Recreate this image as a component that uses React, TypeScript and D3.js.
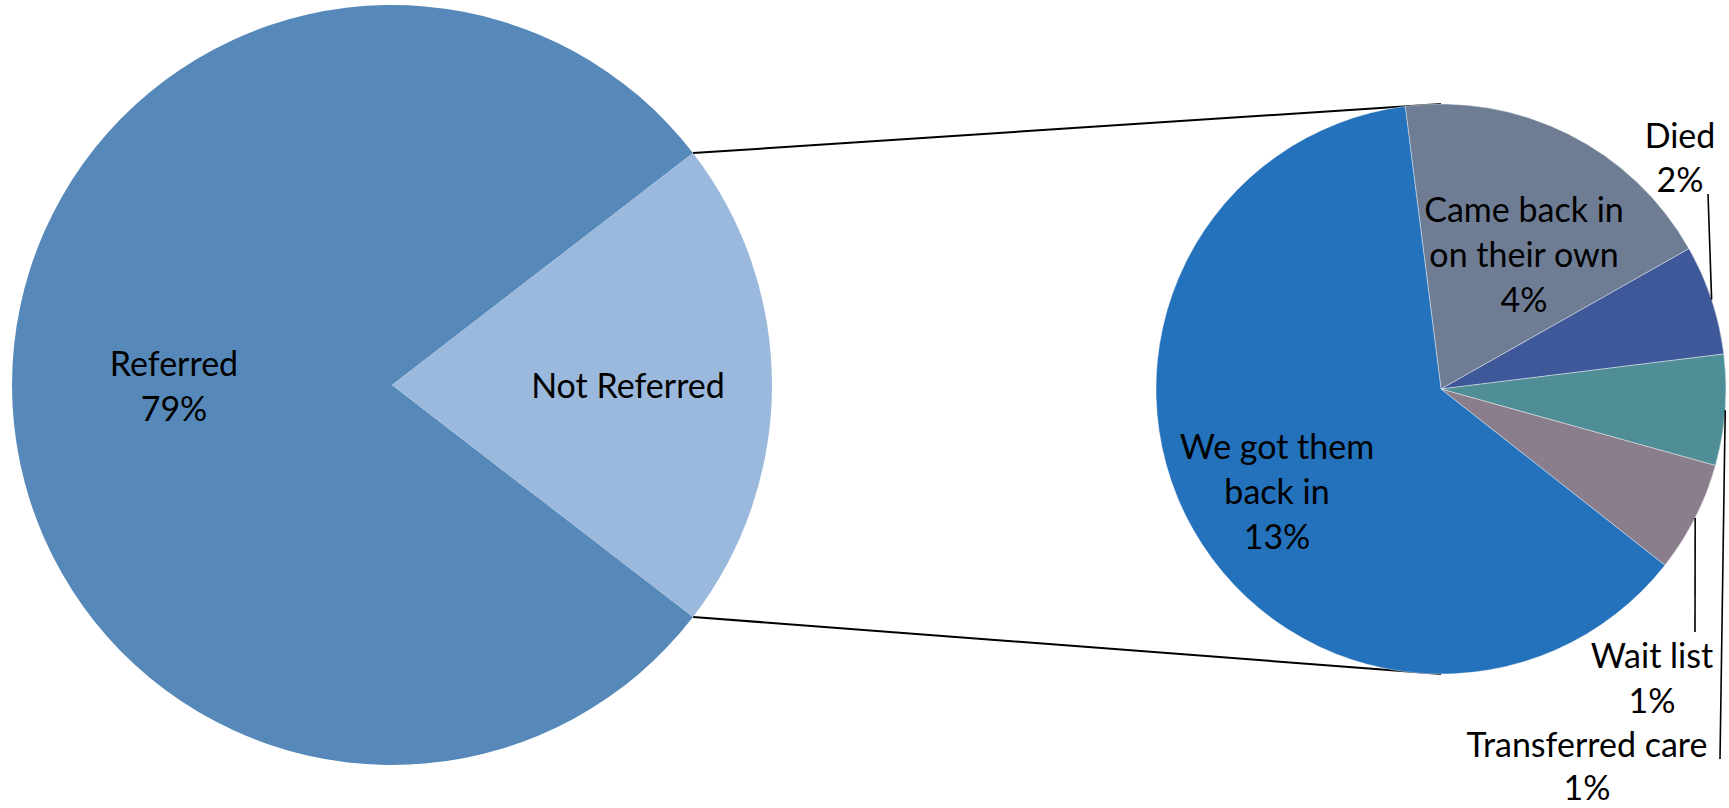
import React from "react";
import * as d3 from "d3";

// ---- data ----
const mainCategories = ["Referred", "Not Referred"];
const mainValues = [79.1, 20.9];
const mainLabelLines = [["Referred", "79%"], ["Not Referred"]];

const subCategories = [
  "Came back in on their own",
  "Died",
  "Transferred care",
  "Wait list",
  "We got them back in",
];
const subValues = [3.95, 1.31, 1.32, 1.32, 13.1];
const subLabelLines = [
  ["Came back in", "on their own", "4%"],
  ["Died", "2%"],
  ["Transferred care", "1%"],
  ["Wait list", "1%"],
  ["We got them", "back in", "13%"],
];

// ---- styling / layout ----
const W = 1729;
const H = 808;
const mainCx = 392, mainCy = 385, mainR = 380;
const subCx = 1441, subCy = 389, subR = 285;
const mainColors = ["#5689B9", "#9AB9DC"];
const subColors = ["#6E7D94", "#3F5899", "#4F8D97", "#8A7E8C", "#2471BC"];
const subStart = (-7.22 * Math.PI) / 180;
const FONT = "Lato, 'Open Sans', sans-serif";
const FS = 34;
const LH = 45;

// label offsets relative to pie centre (first-line baseline, centred)
const mainLabelOffsets = [[-218, -9], [236, 13]];
const subLabelOffsets = [[83, -167], [239, -241], [146, 368], [211, 279], [-164, 70]];
const subLineHeights = [LH, 44, 43, LH, LH];
// leader line outer ends, relative to pie centre (null = no leader)
const subLeaderEnds: ([number, number] | null)[] = [null, [267, -195], [279, 370], [254, 243], null];

export default function App() {
  const notIdx = 1;
  const total = d3.sum(mainValues);
  const span = (mainValues[notIdx] / total) * 2 * Math.PI;
  const mStart = Math.PI / 2 + span / 2;
  const mainPie = d3.pie<number>().sort(null).startAngle(mStart).endAngle(mStart + 2 * Math.PI)(mainValues);
  const mainArc = d3.arc<d3.PieArcDatum<number>>().innerRadius(0).outerRadius(mainR);

  const subPie = d3.pie<number>().sort(null).startAngle(subStart).endAngle(subStart + 2 * Math.PI)(subValues);
  const subArc = d3.arc<d3.PieArcDatum<number>>().innerRadius(0).outerRadius(subR);

  const nr = mainPie[notIdx];
  const p1: [number, number] = [mainCx + mainR * Math.sin(nr.startAngle), mainCy - mainR * Math.cos(nr.startAngle)];
  const p2: [number, number] = [mainCx + mainR * Math.sin(nr.endAngle), mainCy - mainR * Math.cos(nr.endAngle)];
  const topPt: [number, number] = [subCx, subCy - subR];
  const botPt: [number, number] = [subCx, subCy + subR];

  return (
    <svg width={W} height={H} style={{ position: "absolute", left: 0, top: 0, display: "block" }} fontFamily={FONT}>
      <rect width={W} height={H} fill="#ffffff" />
      <line x1={p1[0]} y1={p1[1]} x2={topPt[0]} y2={topPt[1]} stroke="#000" strokeWidth={2} />
      <line x1={p2[0]} y1={p2[1]} x2={botPt[0]} y2={botPt[1]} stroke="#000" strokeWidth={2} />

      <g transform={`translate(${mainCx},${mainCy})`}>
        {mainPie.map((d, i) => (
          <path key={mainCategories[i]} d={mainArc(d) || ""} fill={mainColors[i]} />
        ))}
        {mainLabelLines.map((lines, i) => (
          <text key={i} x={mainLabelOffsets[i][0]} y={mainLabelOffsets[i][1]} textAnchor="middle" fontSize={FS} fill="#000">
            {lines.map((l, j) => (
              <tspan key={j} x={mainLabelOffsets[i][0]} dy={j === 0 ? 0 : LH}>{l}</tspan>
            ))}
          </text>
        ))}
      </g>

      <g transform={`translate(${subCx},${subCy})`}>
        {subPie.map((d, i) => (
          <path key={subCategories[i]} d={subArc(d) || ""} fill={subColors[i]} stroke="#ffffff" strokeOpacity={0.5} strokeWidth={0.8} />
        ))}
        {subPie.map((d, i) => {
          const end = subLeaderEnds[i];
          if (!end) return null;
          const a = (d.startAngle + d.endAngle) / 2;
          return (
            <line key={"l" + i} x1={subR * Math.sin(a)} y1={-subR * Math.cos(a)} x2={end[0]} y2={end[1]} stroke="#000" strokeWidth={1.6} />
          );
        })}
        {subLabelLines.map((lines, i) => (
          <text key={i} x={subLabelOffsets[i][0]} y={subLabelOffsets[i][1]} textAnchor="middle" fontSize={FS} fill="#000">
            {lines.map((l, j) => (
              <tspan key={j} x={subLabelOffsets[i][0]} dy={j === 0 ? 0 : subLineHeights[i]}>{l}</tspan>
            ))}
          </text>
        ))}
      </g>
    </svg>
  );
}
